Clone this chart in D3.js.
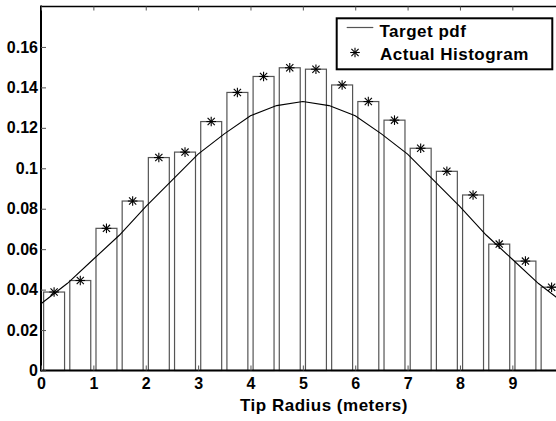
<!DOCTYPE html>
<html>
<head>
<meta charset="utf-8">
<script src="https://cdn.jsdelivr.net/npm/d3@7"></script>
<style>
  html, body { margin: 0; padding: 0; background: #fff; }
  svg { display: block; }
  text { font-family: "Liberation Sans", Arial, sans-serif; font-weight: bold; fill: #000; }
</style>
</head>
<body>
<svg id="chart" width="556" height="421"></svg>
<script>
// Histogram bin centers (meters) and bar heights
const binCenters = [0.25, 0.75, 1.25, 1.75, 2.25, 2.75, 3.25, 3.75, 4.25, 4.75,
                    5.25, 5.75, 6.25, 6.75, 7.25, 7.75, 8.25, 8.75, 9.25, 9.75];
const histValues = [0.0388, 0.0445, 0.0703, 0.0838, 0.1053, 0.108, 0.1231, 0.1375, 0.1454, 0.1497,
                    0.149, 0.1412, 0.133, 0.1238, 0.1099, 0.0985, 0.0868, 0.0625, 0.0541, 0.0412];
// Target pdf curve
const pdfX = [0, 0.5, 1, 1.5, 2, 2.5, 3, 3.5, 4, 4.5, 5, 5.5, 6, 6.5, 7, 7.5, 8, 8.5, 9, 9.5, 10];
const pdfY = [0.033, 0.043, 0.055, 0.067, 0.081, 0.094, 0.107, 0.117, 0.126, 0.131, 0.133,
              0.131, 0.126, 0.117, 0.107, 0.094, 0.081, 0.067, 0.055, 0.043, 0.033];
const xTicks = [0, 1, 2, 3, 4, 5, 6, 7, 8, 9];
const xTickLabels = ["0", "1", "2", "3", "4", "5", "6", "7", "8", "9"];
const yTicks = [0, 0.02, 0.04, 0.06, 0.08, 0.1, 0.12, 0.14, 0.16];
const yTickLabels = ["0", "0.02", "0.04", "0.06", "0.08", "0.1", "0.12", "0.14", "0.16"];
const legendLabels = ["Target pdf", "Actual Histogram"];
const xLabel = "Tip Radius (meters)";
const binWidth = 0.5, barFrac = 0.8;

const svg = d3.select("#chart");
const x = d3.scaleLinear().domain([0, 10]).range([41, 564.7]);
const y = d3.scaleLinear().domain([0, 0.18]).range([370.5, 6.5]);

// Bars
svg.append("g").selectAll("rect").data(binCenters).join("rect")
  .attr("x", (d) => x(d - binWidth * barFrac / 2))
  .attr("width", (d) => x(d + binWidth * barFrac / 2) - x(d - binWidth * barFrac / 2))
  .attr("y", (d, i) => y(histValues[i]))
  .attr("height", (d, i) => y(0) - y(histValues[i]))
  .attr("fill", "#fff").attr("stroke", "#555").attr("stroke-width", 1.2);

// Curve
const line = d3.line().x((d) => x(d[0])).y((d) => y(d[1]));
svg.append("path").datum(pdfX.map((v, i) => [v, pdfY[i]]))
  .attr("d", line).attr("fill", "none").attr("stroke", "#000").attr("stroke-width", 1.1);

// Star markers
function star(g, cx, cy, r) {
  const s = g.append("g").attr("transform", `translate(${cx},${cy})`)
    .attr("stroke", "#000").attr("stroke-width", 1.1);
  s.append("line").attr("x1", -r).attr("x2", r).attr("y1", 0).attr("y2", 0);
  s.append("line").attr("x1", 0).attr("x2", 0).attr("y1", -r).attr("y2", r);
  const q = r * 0.75;
  s.append("line").attr("x1", -q).attr("x2", q).attr("y1", -q).attr("y2", q);
  s.append("line").attr("x1", -q).attr("x2", q).attr("y1", q).attr("y2", -q);
}
const stars = svg.append("g");
binCenters.forEach((c, i) => star(stars, x(c), y(histValues[i]), 4.8));

// Axes
const axG = svg.append("g");
axG.append("line").attr("x1", x(0)).attr("x2", 556).attr("y1", y(0)).attr("y2", y(0))
  .attr("stroke", "#000").attr("stroke-width", 2);
axG.append("line").attr("x1", x(0)).attr("x2", x(0)).attr("y1", y(0) + 1).attr("y2", y(0.18) - 1)
  .attr("stroke", "#000").attr("stroke-width", 2);
axG.append("line").attr("x1", x(0)).attr("x2", 556).attr("y1", y(0.18)).attr("y2", y(0.18))
  .attr("stroke", "#000").attr("stroke-width", 1.6);

const xAxis = d3.axisBottom(x).tickValues(xTicks).tickSize(-5).tickPadding(10)
  .tickFormat((d, i) => xTickLabels[i]);
const gx = svg.append("g").attr("transform", `translate(0,${y(0)})`).call(xAxis);
gx.select(".domain").remove();
gx.selectAll(".tick line").attr("stroke", "#555");
gx.selectAll("text").style("font-size", "16px").style("font-family", "Liberation Sans, Arial, sans-serif")
  .style("font-weight", "bold").attr("fill", "#000").attr("dy", "0.71em").attr("y", 7);

const xTop = d3.axisTop(x).tickValues(xTicks).tickSize(-4).tickFormat("");
const gxt = svg.append("g").attr("transform", `translate(0,${y(0.18)})`).call(xTop);
gxt.select(".domain").remove();
gxt.selectAll(".tick line").attr("stroke", "#555");

const yAxis = d3.axisLeft(y).tickValues(yTicks).tickSize(-5).tickPadding(4)
  .tickFormat((d, i) => yTickLabels[i]);
const gy = svg.append("g").attr("transform", `translate(${x(0)},0)`).call(yAxis);
gy.select(".domain").remove();
gy.selectAll(".tick line").attr("stroke", "#555");
gy.selectAll("text").style("font-size", "16px").style("font-family", "Liberation Sans, Arial, sans-serif")
  .style("font-weight", "bold").attr("fill", "#000").attr("x", -3);

// x label
svg.append("text").attr("x", 324).attr("y", 411).attr("text-anchor", "middle")
  .style("font-size", "17px").style("letter-spacing", "0.5px").text(xLabel);

// Legend
const lg = svg.append("g");
lg.append("rect").attr("x", 336.7).attr("y", 18.3).attr("width", 215.6).attr("height", 51)
  .attr("fill", "#fff").attr("stroke", "#000").attr("stroke-width", 2);
lg.append("line").attr("x1", 346.7).attr("x2", 373.3).attr("y1", 27.5).attr("y2", 27.5)
  .attr("stroke", "#555").attr("stroke-width", 1.2);
star(lg, 355, 52.5, 4.8);
lg.append("text").attr("x", 379.5).attr("y", 36.7).style("font-size", "17px")
  .style("letter-spacing", "0.5px").text(legendLabels[0]);
lg.append("text").attr("x", 380).attr("y", 60).style("font-size", "17px")
  .style("letter-spacing", "0.5px").text(legendLabels[1]);
</script>
</body>
</html>
